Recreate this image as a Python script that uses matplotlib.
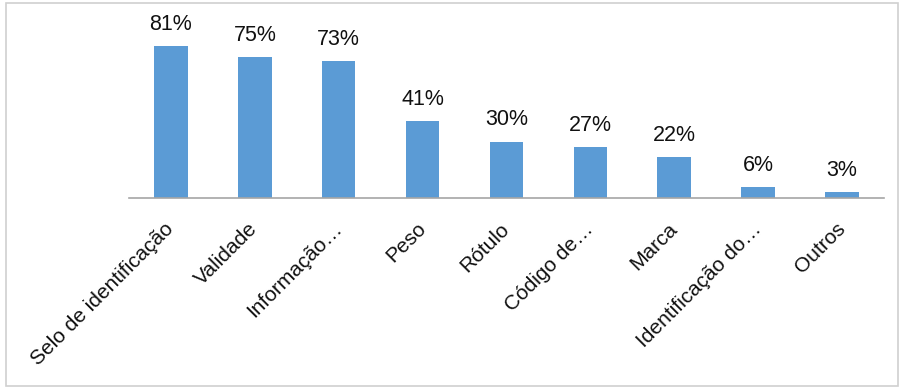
import matplotlib.pyplot as plt
from matplotlib.patches import Rectangle

categories = ['Selo de identificação', 'Validade', 'Informação…', 'Peso', 'Rótulo',
              'Código de…', 'Marca', 'Identificação do…', 'Outros']
values = [81, 75, 73, 41, 30, 27, 22, 6, 3]

plt.rcParams['font.family'] = ['Liberation Sans', 'DejaVu Sans']

W, H = 903, 389
fig = plt.figure(figsize=(W / 100, H / 100), dpi=100)

# plot area in pixels
x0, x1 = 129, 884
y_base, y_top = 198, 10
ax = fig.add_axes([x0 / W, (H - y_base) / H, (x1 - x0) / W, (y_base - y_top) / H])

pos = range(len(categories))
bars = ax.bar(pos, values, width=0.4, color='#5B9BD5', zorder=2)
ax.set_xlim(-0.5, len(categories) - 0.5)
ax.set_ylim(0, (y_base - y_top) / 1.88)

for b, v in zip(bars, values):
    ax.annotate(f'{v}%', (b.get_x() + b.get_width() / 2, v), xytext=(0, 8),
                textcoords='offset points', ha='center', va='bottom',
                fontsize=15.5, color='#111111')

ax.set_xticks(list(pos))
ax.set_xticklabels(categories, rotation=45, ha='right', va='center',
                   rotation_mode='anchor', fontsize=15, color='#111111')
ax.tick_params(axis='x', length=0, pad=20)
ax.set_yticks([])

for s in ['top', 'right', 'left']:
    ax.spines[s].set_visible(False)
ax.spines['bottom'].set_color('#a6a6a6')
ax.spines['bottom'].set_linewidth(1.2)

# outer chart border
fig.patches.append(Rectangle((6 / W, 3 / H), 892 / W, 383 / H, transform=fig.transFigure,
                             fill=False, edgecolor='#d0d0d0', linewidth=1.2))

fig.savefig('out.png', dpi=100)
